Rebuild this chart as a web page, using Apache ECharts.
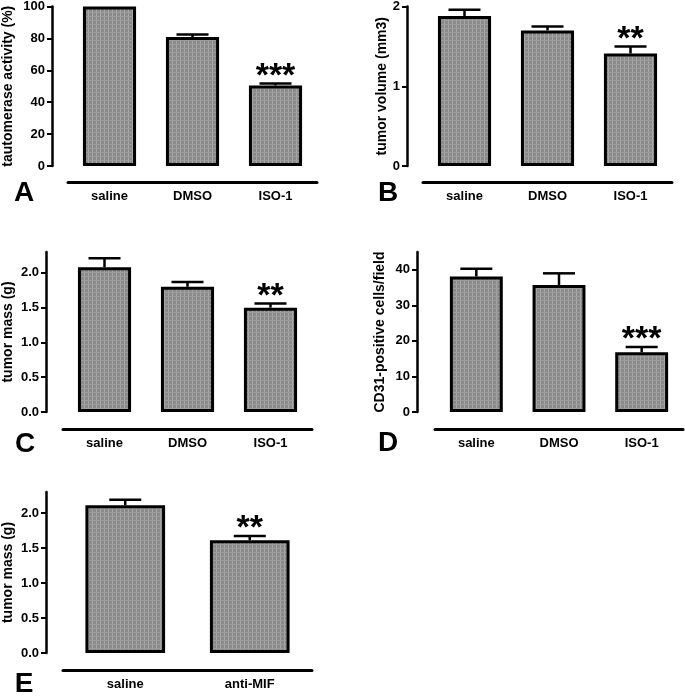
<!DOCTYPE html>
<html><head><meta charset="utf-8">
<script src="https://cdn.jsdelivr.net/npm/echarts@6/dist/echarts.min.js"></script>
<style>html,body{margin:0;padding:0;background:#fff}#c{width:685px;height:696px}</style>
</head><body><div id="c"></div>
<script>
// ---- data ----
const catsABCD = ['saline', 'DMSO', 'ISO-1'];
const catsE = ['saline', 'anti-MIF'];

const valuesA = [100, 80.8, 50.5];
const semA = [0, 1.7, 1.3];
const sigA = ['', '', '***'];
const ticksA = [0, 20, 40, 60, 80, 100];

const valuesB = [1.88, 1.70, 1.41];
const semB = [0.08, 0.05, 0.09];
const sigB = ['', '', '**'];
const ticksB = [0, 1, 2];

const valuesC = [2.08, 1.80, 1.50];
const semC = [0.13, 0.07, 0.06];
const sigC = ['', '', '**'];
const ticksC = [0, 0.5, 1.0, 1.5, 2.0];

const valuesD = [38.1, 35.7, 16.8];
const semD = [2.2, 3.3, 1.5];
const sigD = ['', '', '***'];
const ticksD = [0, 10, 20, 30, 40];

const valuesE = [2.11, 1.61];
const semE = [0.08, 0.06];
const sigE = ['', '**'];
const ticksE = [0, 0.5, 1.0, 1.5, 2.0];

// ---- styling ----
const FONT = '"Liberation Sans", Arial, sans-serif';
const pat = document.createElement('canvas');
pat.width = 4; pat.height = 4;
const pc = pat.getContext('2d');
pc.fillStyle = '#8a8a8a'; pc.fillRect(0, 0, 4, 4);
pc.fillStyle = '#a8a8a8'; pc.fillRect(0, 0, 1, 4);
pc.fillStyle = '#9c9c9c'; pc.fillRect(0, 0, 4, 1);
const barFill = { image: pat, repeat: 'repeat' };

const panels = [
  { cats: catsABCD, vals: valuesA, sem: semA, sig: sigA, ticks: ticksA, max: 100, name: 'tautomerase activity (%)', gap: 37, fmt: v => String(v),
    grid: { left: 68, top: 6, width: 249, height: 160 }, yOff: 16, xOff: 16 },
  { cats: catsABCD, vals: valuesB, sem: semB, sig: sigB, ticks: ticksB, max: 2, name: 'tumor volume (mm3)', gap: 18, fmt: v => String(v),
    grid: { left: 423, top: 6, width: 249, height: 160 }, yOff: 16, xOff: 16 },
  { cats: catsABCD, vals: valuesC, sem: semC, sig: sigC, ticks: ticksC, max: 2.3, name: 'tumor mass (g)', gap: 31, fmt: v => v.toFixed(1),
    grid: { left: 63, top: 252, width: 249, height: 160 }, yOff: 17, xOff: 17 },
  { cats: catsABCD, vals: valuesD, sem: semD, sig: sigD, ticks: ticksD, max: 45, name: 'CD31-positive cells/field', gap: 30, fmt: v => String(v),
    grid: { left: 435, top: 252, width: 248, height: 160 }, yOff: 18, xOff: 17 },
  { cats: catsE, vals: valuesE, sem: semE, sig: sigE, ticks: ticksE, max: 2.3, name: 'tumor mass (g)', gap: 31, fmt: v => v.toFixed(1),
    grid: { left: 63, top: 492, width: 249, height: 161 }, yOff: 17, xOff: 17 }
];

const grid = [], xAxis = [], yAxis = [], series = [];
panels.forEach((p, i) => {
  grid.push(Object.assign({ containLabel: false }, p.grid));
  xAxis.push({
    type: 'category', gridIndex: i, data: p.cats, offset: p.xOff,
    axisLine: { onZero: false, lineStyle: { color: '#000', width: 3 } },
    axisTick: { alignWithLabel: true, length: 5, lineStyle: { color: '#000', width: 2 } },
    axisLabel: { color: '#000', fontFamily: FONT, fontWeight: 'bold', fontSize: 13, margin: 8 }
  });
  yAxis.push({
    type: 'value', gridIndex: i, min: 0, max: p.max, offset: p.yOff,
    name: p.name, nameLocation: 'middle', nameGap: p.gap,
    nameTextStyle: { color: '#000', fontFamily: FONT, fontWeight: 'bold', fontSize: 14 },
    splitLine: { show: false },
    axisLine: { show: true, onZero: false, lineStyle: { color: '#000', width: 2.5 } },
    axisTick: { show: true, length: 5, customValues: p.ticks, lineStyle: { color: '#000', width: 2 } },
    axisLabel: { color: '#000', fontFamily: FONT, fontWeight: 'bold', fontSize: 13, margin: 7, customValues: p.ticks, formatter: p.fmt }
  });
  series.push({
    type: 'bar', xAxisIndex: i, yAxisIndex: i, data: p.vals, barWidth: '64%',
    itemStyle: { color: barFill, borderColor: '#000', borderWidth: 3 },
    silent: true, animation: false
  });
  series.push({
    type: 'custom', xAxisIndex: i, yAxisIndex: i, animation: false, silent: true, z: 5,
    data: p.vals.map((v, k) => [k, v, p.sem[k]]),
    renderItem: (params, api) => {
      const k = api.value(0), m = api.value(1), e = api.value(2);
      const base = api.coord([k, m]);
      const top = api.coord([k, m + e]);
      const children = [];
      if (e > 0) {
        children.push({ type: 'line', shape: { x1: base[0], y1: base[1], x2: top[0], y2: top[1] }, style: { stroke: '#000', lineWidth: 2.5 } });
        children.push({ type: 'line', shape: { x1: top[0] - 16, y1: top[1], x2: top[0] + 16, y2: top[1] }, style: { stroke: '#000', lineWidth: 2.5 } });
      }
      const s = p.sig[params.dataIndex];
      if (s) {
        children.push({ type: 'text', x: top[0], y: top[1] - 7,
          style: { text: s, align: 'center', verticalAlign: 'middle', fill: '#000', font: 'bold 34px ' + FONT } });
      }
      return { type: 'group', children };
    }
  });
});

const letters = [['A', 24, 193], ['B', 388, 193], ['C', 25, 444], ['D', 388, 443], ['E', 24, 684]];
const graphic = letters.map(l => ({
  type: 'text', x: l[1], y: l[2],
  style: { text: l[0], align: 'center', verticalAlign: 'middle', fill: '#000', font: 'bold 28px ' + FONT }
}));

const chart = echarts.init(document.getElementById('c'), null, { renderer: 'canvas' });
chart.setOption({ animation: false, backgroundColor: '#fff', grid, xAxis, yAxis, series, graphic });
</script></body></html>
